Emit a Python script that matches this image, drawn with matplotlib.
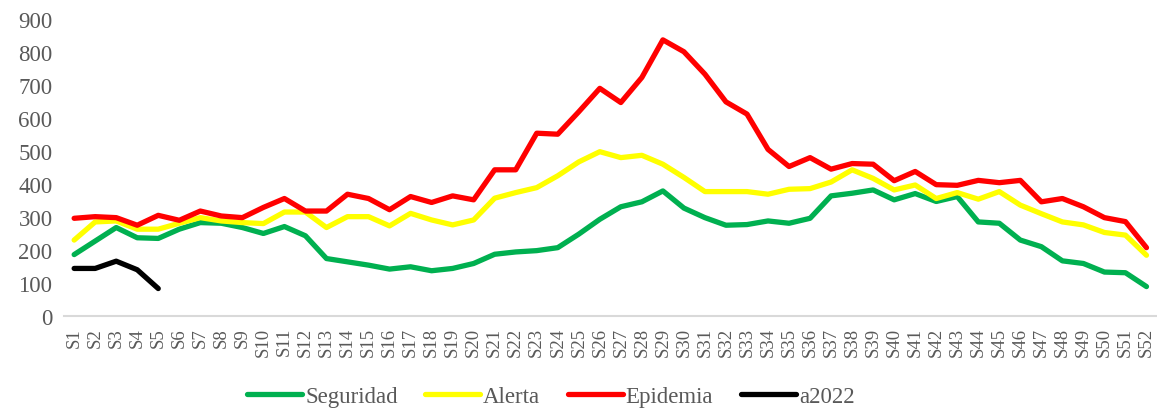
import numpy as np
import matplotlib.pyplot as plt

# weeks S1..S52
semanas = ['S' + str(i) for i in range(1, 53)]

seguridad = [186, 227, 268, 237, 235, 263, 283, 281, 268, 250, 271, 243, 174, 164, 154, 142,
             149, 137, 144, 159, 187, 194, 198, 207, 248, 293, 331, 346, 379, 327, 298, 275,
             277, 288, 281, 296, 364, 372, 382, 352, 371, 347, 362, 285, 281, 230, 210, 167,
             159, 133, 131, 89]
alerta = [230, 285, 288, 263, 263, 281, 298, 288, 283, 280, 315, 315, 268, 301, 301, 273,
          311, 291, 276, 291, 357, 374, 389, 425, 467, 498, 480, 487, 460, 420, 377, 377,
          377, 369, 384, 386, 406, 443, 417, 382, 397, 356, 374, 354, 377, 336, 310, 285,
          276, 253, 245, 184]
epidemia = [296, 301, 298, 275, 305, 290, 318, 303, 298, 329, 356, 318, 318, 369, 356, 322,
            362, 344, 364, 352, 443, 443, 554, 551, 619, 690, 647, 723, 837, 801, 733, 649,
            612, 505, 453, 480, 445, 462, 460, 410, 438, 398, 396, 411, 404, 411, 346, 356,
            331, 298, 286, 207]
a2022 = [144, 144, 166, 140, 83]

series = [('Seguridad', seguridad, '#00B050'),
          ('Alerta', alerta, '#FFFF00'),
          ('Epidemia', epidemia, '#FF0000'),
          ('a2022', a2022, '#000000')]

plt.rcParams['font.family'] = ['Liberation Serif', 'DejaVu Serif']
gris = '#595959'

fig = plt.figure(figsize=(11.57, 4.10), dpi=100)
ax = fig.add_axes([0.055, 0.227, 0.945, 0.724])

x = np.arange(len(semanas))
for nombre, vals, col in series:
    ax.plot(x[:len(vals)], vals, color=col, lw=3.8, label=nombre,
            solid_capstyle='round', solid_joinstyle='round')

ax.set_xlim(-0.5, len(semanas) - 0.5)
ax.set_ylim(0, 900)
ax.set_yticks(range(0, 901, 100))
ax.set_xticks(x)
ax.set_xticklabels(semanas, rotation=90, fontsize=13.5, color=gris)
ax.tick_params(axis='y', labelsize=16.5, colors=gris, length=0, pad=8)
ax.tick_params(axis='x', length=0, pad=8)

for s in ['top', 'right', 'left']:
    ax.spines[s].set_visible(False)
ax.spines['bottom'].set_color('#D9D9D9')
ax.spines['bottom'].set_linewidth(1.5)

leg = fig.legend(loc='center', bbox_to_anchor=(0.476, 0.03), ncol=4, frameon=False,
                 fontsize=16.5, handlelength=2.4, handletextpad=0.13, columnspacing=1.2)
for t in leg.get_texts():
    t.set_color(gris)

fig.savefig('out.png', dpi=100)
